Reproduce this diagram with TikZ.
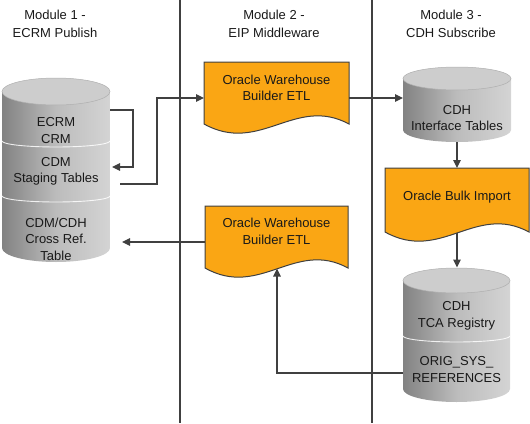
\documentclass[tikz,border=0pt]{standalone}
\usepackage{fontspec}
\setmainfont{Liberation Sans}
\usetikzlibrary{arrows.meta}
\definecolor{orng}{RGB}{250,166,20}
\definecolor{lineC}{RGB}{64,64,64}
\definecolor{txtC}{RGB}{25,25,25}
\definecolor{cylL}{RGB}{130,130,130}
\definecolor{cylM}{RGB}{188,188,188}
\definecolor{cylR}{RGB}{212,212,212}
\definecolor{cylTop}{RGB}{205,205,205}
\definecolor{cylRim}{RGB}{175,175,175}
\begin{document}
\begin{tikzpicture}[x=1pt,y=-1pt,
  every node/.style={text=txtC, align=center, inner sep=0pt},
  txt/.style={font=\fontsize{13}{16.5}\selectfont},
  hdr/.style={font=\fontsize{13}{18}\selectfont},
  sepline/.style={draw=lineC, line width=1.2pt},
  conn/.style={draw=lineC, line width=1.1pt},
  arr/.style={conn, -{Triangle[length=8pt,width=7.5pt]}},
  docbox/.style={fill=orng, draw=lineC, line width=1pt},
  cylbody/.style={left color=cylL, right color=cylR, middle color=cylM},
  cyltop/.style={fill=cylTop, draw=cylRim, line width=0.5pt},
  cylsep/.style={draw=white, line width=0.9pt, opacity=0.85}
]
\useasboundingbox (0,0) rectangle (530,423);

% column separators
\coordinate (s1t) at (180,0); \coordinate (s1b) at (180,423);
\coordinate (s2t) at (372,0); \coordinate (s2b) at (372,423);
\draw[sepline] (s1t) -- (s1b);
\draw[sepline] (s2t) -- (s2b);

% headers
\node[hdr] (h1) at (55,24) {Module 1 -\\ECRM Publish};
\node[hdr] (h2) at (274,24) {Module 2 -\\EIP Middleware};
\node[hdr] (h3) at (451,24) {Module 3 -\\CDH Subscribe};

% ---------- left cylinder stack ----------
\path[cylbody] (2,91.5) -- (2,248) arc[start angle=180,end angle=360,x radius=54pt,y radius=14pt] -- (110,91.5) -- cycle;
\path[cyltop] (56,91.5) ellipse[x radius=54pt,y radius=13.5pt];
\draw[cylsep] (2,141) arc[start angle=180,end angle=360,x radius=54pt,y radius=6pt];
\draw[cylsep] (2,196) arc[start angle=180,end angle=360,x radius=54pt,y radius=6pt];
\node[txt] (ecrm) at (56,130.5) {ECRM\\CRM};
\node[txt] (cdm) at (56,171.5) {CDM\\Staging Tables};
\node[txt] (xref) at (56,239) {CDM/CDH\\Cross Ref.\\Table};

% ---------- CDH interface cylinder ----------
\path[cylbody] (403,78.5) -- (403,130) arc[start angle=180,end angle=360,x radius=54pt,y radius=12pt] -- (511,78.5) -- cycle;
\path[cyltop] (457,78.5) ellipse[x radius=54pt,y radius=11.5pt];
\node[txt] (cdhi) at (457,118) {CDH\\Interface Tables};

% ---------- CDH TCA cylinder ----------
\path[cylbody] (403,280.5) -- (403,389) arc[start angle=180,end angle=360,x radius=53.5pt,y radius=13pt] -- (510,280.5) -- cycle;
\path[cyltop] (456.5,280.5) ellipse[x radius=53.5pt,y radius=12.5pt];
\draw[cylsep] (403,336) arc[start angle=180,end angle=360,x radius=53.5pt,y radius=6pt];
\node[txt] (tca) at (456.5,316) {CDH\\TCA Registry};
\node[txt] (orig) at (456.5,369.5) {ORIG\_SYS\_\\REFERENCES};

% ---------- document boxes ----------
\draw[docbox] (204,62) -- (349,62) -- (349,124) .. controls (295,95) and (260,155) .. (204,124) -- cycle;
\node[txt] (owb1) at (276.5,88) {Oracle Warehouse\\Builder ETL};

\draw[docbox] (205,206) -- (348,206) -- (348,268) .. controls (295,239) and (260,299) .. (205,268) -- cycle;
\node[txt] (owb2) at (276.5,231.5) {Oracle Warehouse\\Builder ETL};

\draw[docbox] (385,168) -- (529,168) -- (529,232) .. controls (475,203) and (441,263) .. (385,232) -- cycle;
\node[txt] (bulk) at (457,197) {Oracle Bulk Import};

% ---------- connection points ----------
\coordinate (ecrmE) at (110,110);
\coordinate (cdmIn) at (112,167);
\coordinate (cdmOut) at (120,184);
\coordinate (owb1W) at (204,98);
\coordinate (owb1E) at (349,98);
\coordinate (cdhiW) at (403,98);
\coordinate (cdhiS) at (457,142);
\coordinate (bulkN) at (457,168);
\coordinate (bulkS) at (457,233);
\coordinate (tcaN) at (457,267.5);
\coordinate (origW) at (403,373);
\coordinate (owb2S) at (277,268.5);
\coordinate (owb2W) at (205,242);
\coordinate (xrefE) at (122,242);

% ---------- connectors ----------
\draw[arr] (ecrmE) -- ++(23,0) |- (cdmIn);
\draw[arr] (cdmOut) -- ++(37,0) |- (owb1W);
\draw[arr] (owb1E) -- (cdhiW);
\draw[arr] (cdhiS) -- (bulkN);
\draw[arr] (bulkS) -- (tcaN);
\draw[arr] (origW) -| (owb2S);
\draw[arr] (owb2W) -- (xrefE);
\end{tikzpicture}
\end{document}
